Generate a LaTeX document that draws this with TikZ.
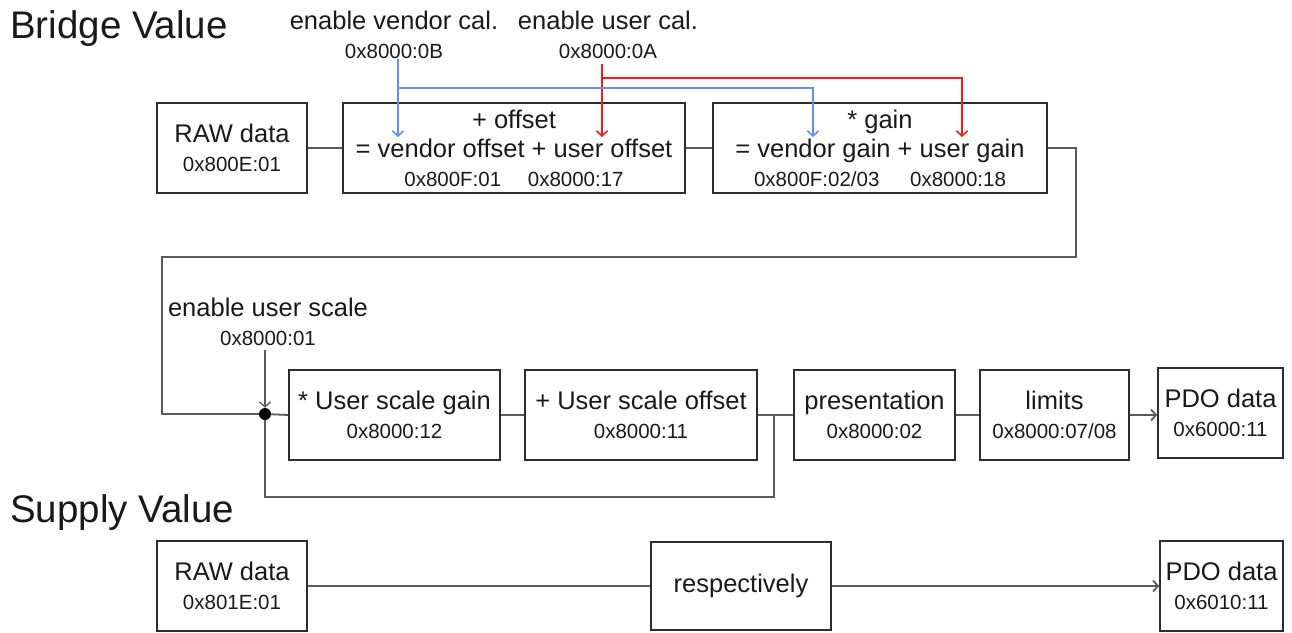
\documentclass[tikz,border=0pt]{standalone}
\usepackage{fontspec}
\setmainfont{Liberation Sans}
\definecolor{boxGray}{RGB}{45,45,45}
\definecolor{wireGray}{RGB}{90,90,90}
\definecolor{calBlue}{RGB}{100,140,255}
\definecolor{calRed}{RGB}{240,30,30}
\definecolor{txtBlack}{RGB}{25,25,25}
\newcommand{\bvBig}{\fontsize{25.5pt}{29pt}\selectfont}
\newcommand{\bvSmall}{\fontsize{20.5pt}{26pt}\selectfont}
\newcommand{\bvHead}{\fontsize{38.5pt}{42pt}\selectfont}
\usetikzlibrary{arrows.meta,positioning,calc}

\begin{document}
\begin{tikzpicture}[x=1pt, y=-1pt,
  box/.style={draw=boxGray, line width=1.5pt, inner sep=0pt, align=center,
              font=\bvBig, text=txtBlack},
  lbl/.style={align=center, font=\bvBig, text=txtBlack, inner sep=0pt},
  wire/.style={wireGray, line width=1.8pt},
  tip/.style={-{Straight Barb[length=5pt,width=11pt]}},
  venline/.style={calBlue, line width=1.6pt},
  usrline/.style={calRed, line width=1.6pt}
]
  \useasboundingbox (0,0) rectangle (1292,632);

  % bridge value
  \node[lbl, anchor=west, font=\bvHead] (brHead) at (10,29) {Bridge Value};
  \node[box, minimum width=150pt, minimum height=90pt] (rawB) at (232,148)
    {RAW data\\{\bvSmall 0x800E:01}};
  \node[box, minimum width=342pt, minimum height=90pt] (offs) at (514,148)
    {+ offset\\= vendor offset + user offset\\{\bvSmall 0x800F:01\hspace{1.3em}0x8000:17}};
  \node[box, minimum width=334pt, minimum height=90pt] (gain) at (880,148)
    {* gain\\= vendor gain + user gain\\{\bvSmall 0x800F:02/03\hspace{1.5em}0x8000:18}};
  \node[lbl] (venLbl) at (394,35) {enable vendor cal.\\{\bvSmall 0x8000:0B}};
  \node[lbl] (usrLbl) at (608,35) {enable user cal.\\{\bvSmall 0x8000:0A}};

  \draw[wire] (rawB.east) -- (offs.west);
  \draw[wire] (offs.east) -- (gain.west);

  % calibration switches
  \coordinate (vOff)  at (398,137);
  \coordinate (vGain) at (813,137);
  \coordinate (vBus)  at (398,88);
  \coordinate (uOff)  at (602,137);
  \coordinate (uGain) at (962,137);
  \coordinate (uBus)  at (602,78);
  \draw[usrline, tip, shorten <=5pt] (uOff |- usrLbl.south) -- (uOff);
  \draw[usrline, tip] (uBus) -| (uGain);
  \draw[venline, tip] (vOff |- venLbl.south) -- (vOff);
  \draw[venline, tip] (vBus) -| (vGain);

  % user scale chain
  \node[circle, fill=black, inner sep=0pt, minimum size=12pt] (jn) at (265,414) {};
  \node[box, minimum width=211pt, minimum height=90pt] (usg) at (394.5,415)
    {* User scale gain\\{\bvSmall 0x8000:12}};
  \node[box, minimum width=232pt, minimum height=90pt] (uso) at (641,415)
    {+ User scale offset\\{\bvSmall 0x8000:11}};
  \node[box, minimum width=161pt, minimum height=90pt] (pres) at (874.5,415)
    {presentation\\{\bvSmall 0x8000:02}};
  \node[box, minimum width=149pt, minimum height=90pt] (lim) at (1054.5,415)
    {limits\\{\bvSmall 0x8000:07/08}};
  \node[box, minimum width=125pt, minimum height=90pt] (pdoB) at (1220.5,413)
    {PDO data\\{\bvSmall 0x6000:11}};
  \node[lbl] (usLbl) at (268,322) {enable user scale\\{\bvSmall 0x8000:01}};

  \coordinate (retR) at (1076,257);
  \coordinate (retL) at (162,414);
  \draw[wire] (gain.east) -| (retR) -| (retL) -- (jn);
  \draw[wire, line width=1.3pt, tip, shorten <=4pt] (jn |- usLbl.south) -- (jn.north);
  \draw[wire] (jn) -- (usg.west);
  \draw[wire] (usg.east) -- (uso.west);
  \draw[wire] (uso.east) -- (pres.west);
  \coordinate (fbR) at (774,497);
  \draw[wire] (jn) |- (fbR) -- (fbR |- uso.east);
  \draw[wire] (pres.east) -- (lim.west);
  \draw[wire, tip] (lim.east) -- (lim.east -| pdoB.west);

  % supply value
  \node[lbl, anchor=west, font=\bvHead] (spHead) at (10,513) {Supply Value};
  \node[box, minimum width=150pt, minimum height=90pt] (rawS) at (232,586)
    {RAW data\\{\bvSmall 0x801E:01}};
  \node[box, minimum width=180pt, minimum height=88pt] (resp) at (741,586)
    {respectively};
  \node[box, minimum width=123pt, minimum height=90pt] (pdoS) at (1221.5,586)
    {PDO data\\{\bvSmall 0x6010:11}};
  \draw[wire] (rawS.east) -- (resp.west);
  \draw[wire, tip] (resp.east) -- (pdoS.west);
\end{tikzpicture}
\end{document}
